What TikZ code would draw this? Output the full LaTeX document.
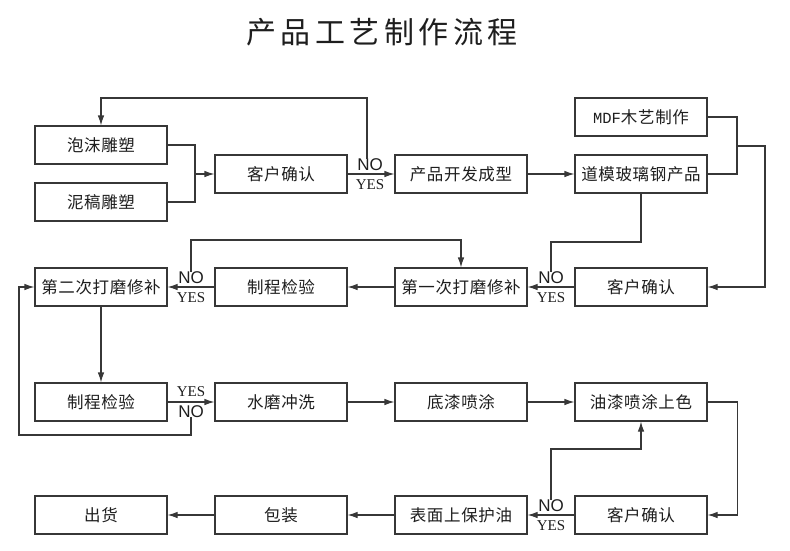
\documentclass[tikz,border=0pt]{standalone}
\usepackage{fontspec}
\setmainfont{Noto Sans CJK SC}
\newfontfamily\latinserif{Liberation Serif}
\newfontfamily\latinsans{Liberation Sans}
\newfontfamily\latinmono{Liberation Mono}
\usepackage{tikz}
\usetikzlibrary{arrows.meta,positioning,calc}
\definecolor{linegray}{RGB}{55,55,55}
\definecolor{textdark}{RGB}{30,30,30}

\begin{document}
\begin{tikzpicture}[
    x=1pt, y=-1pt,
    >={Latex[length=10pt,width=6.5pt]},
    stepbox/.style={draw=linegray, line width=1.1pt, fill=white, minimum width=132pt, minimum height=38pt, inner sep=0pt, text=textdark, font=\fontsize{16.5}{19}\selectfont\addfontfeature{LetterSpace=4}},
    title/.style={text=textdark, font=\fontsize{30}{34}\selectfont\addfontfeature{LetterSpace=15}},
    nolbl/.style={inner sep=0pt, text=textdark, font=\latinsans\fontsize{17}{18}\selectfont},
    yeslbl/.style={inner sep=0pt, text=textdark, font=\latinserif\fontsize{15}{16}\selectfont},
    arrow/.style={->, line width=1.1pt, linegray},
    line/.style={line width=1.1pt, linegray}
]
    \useasboundingbox (0,0) rectangle (790,550);

    % Title
    \node[title] (title) at (382,32) {产品工艺制作流程};

    % Row 1: sculpting and development
    \node[stepbox] (foam) at (101,145) {泡沫雕塑};
    \node[stepbox] (clay) at (101,202) {泥稿雕塑};
    \node[stepbox] (confA) at (281,174) {客户确认};
    \node[stepbox] (dev) at (461,174) {产品开发成型};
    \node[stepbox] (mdf) at (641,117) {{\latinmono\fontsize{15.5}{17}\selectfont MDF}木艺制作};
    \node[stepbox] (frp) at (641,174) {道模玻璃钢产品};

    % Row 2: sanding and checks
    \node[stepbox] (confB) at (641,287) {客户确认};
    \node[stepbox] (sandA) at (461,287) {第一次打磨修补};
    \node[stepbox] (checkA) at (281,287) {制程检验};
    \node[stepbox] (sandB) at (101,287) {第二次打磨修补};

    % Row 3: painting
    \node[stepbox] (checkB) at (101,402) {制程检验};
    \node[stepbox] (wash) at (281,402) {水磨冲洗};
    \node[stepbox] (prime) at (461,402) {底漆喷涂};
    \node[stepbox] (paint) at (641,402) {油漆喷涂上色};

    % Row 4: finishing
    \node[stepbox] (confC) at (641,515) {客户确认};
    \node[stepbox] (coat) at (461,515) {表面上保护油};
    \node[stepbox] (pack) at (281,515) {包装};
    \node[stepbox] (ship) at (101,515) {出货};

    % YES / NO labels on the decision arrows
    \node[nolbl, anchor=south] (noA) at (370,171) {NO};
    \node[yeslbl, anchor=north] (yesA) at (370,179) {YES};
    \node[nolbl, anchor=south] (noB) at (551,284) {NO};
    \node[yeslbl, anchor=north] (yesB) at (551,292) {YES};
    \node[nolbl, anchor=south] (noC) at (191,284) {NO};
    \node[yeslbl, anchor=north] (yesC) at (191,292) {YES};
    \node[yeslbl, anchor=south] (yesD) at (191,397) {YES};
    \node[nolbl, anchor=north] (noD) at (191,405) {NO};
    \node[nolbl, anchor=south] (noE) at (551,512) {NO};
    \node[yeslbl, anchor=north] (yesE) at (551,520) {YES};

    % Junctions and bends
    \coordinate (jA) at (195,174);
    \coordinate (jB) at (737,146);
    \coordinate (jC) at (765,146);
    \coordinate (kA) at (367,98);
    \coordinate (kB) at (551,242);
    \coordinate (kC) at (191,240);
    \coordinate (kD) at (191,435);
    \coordinate (kE) at (19,435);
    \coordinate (kF) at (551,449);

    % Row 1 connections
    \draw[line] (foam.east) -| (jA);
    \draw[line] (clay.east) -| (jA);
    \draw[arrow] (jA) -- (confA.west);
    \draw[arrow] (confA) -- (dev);
    \draw[arrow] (noA.north -| kA) -- (kA) -| (foam.north);
    \draw[arrow] (dev) -- (frp);
    \draw[line] (mdf.east) -| (jB);
    \draw[line] (frp.east) -| (jB);
    \draw[arrow] (jB) -- (jC) |- (confB.east);

    % Row 2 connections
    \draw[arrow] (confB) -- (sandA);
    \draw[line] (noB.north) -- (kB) -| (frp.south);
    \draw[arrow] (sandA) -- (checkA);
    \draw[arrow] (checkA) -- (sandB);
    \draw[arrow] (noC.north) -- (kC) -| (sandA.north);
    \draw[arrow] (sandB) -- (checkB);

    % Row 3 connections
    \draw[arrow] (checkB) -- (wash);
    \draw[arrow] (noD.south) -- (kD) -- (kE) |- (sandB.west);
    \draw[arrow] (wash) -- (prime);
    \draw[arrow] (prime) -- (paint);
    \draw[arrow] (paint.east) -- ++(30,0) |- (confC.east);

    % Row 4 connections
    \draw[arrow] (confC) -- (coat);
    \draw[arrow] (noE.north) -- (kF) -| (paint.south);
    \draw[arrow] (coat) -- (pack);
    \draw[arrow] (pack) -- (ship);

\end{tikzpicture}
\end{document}
